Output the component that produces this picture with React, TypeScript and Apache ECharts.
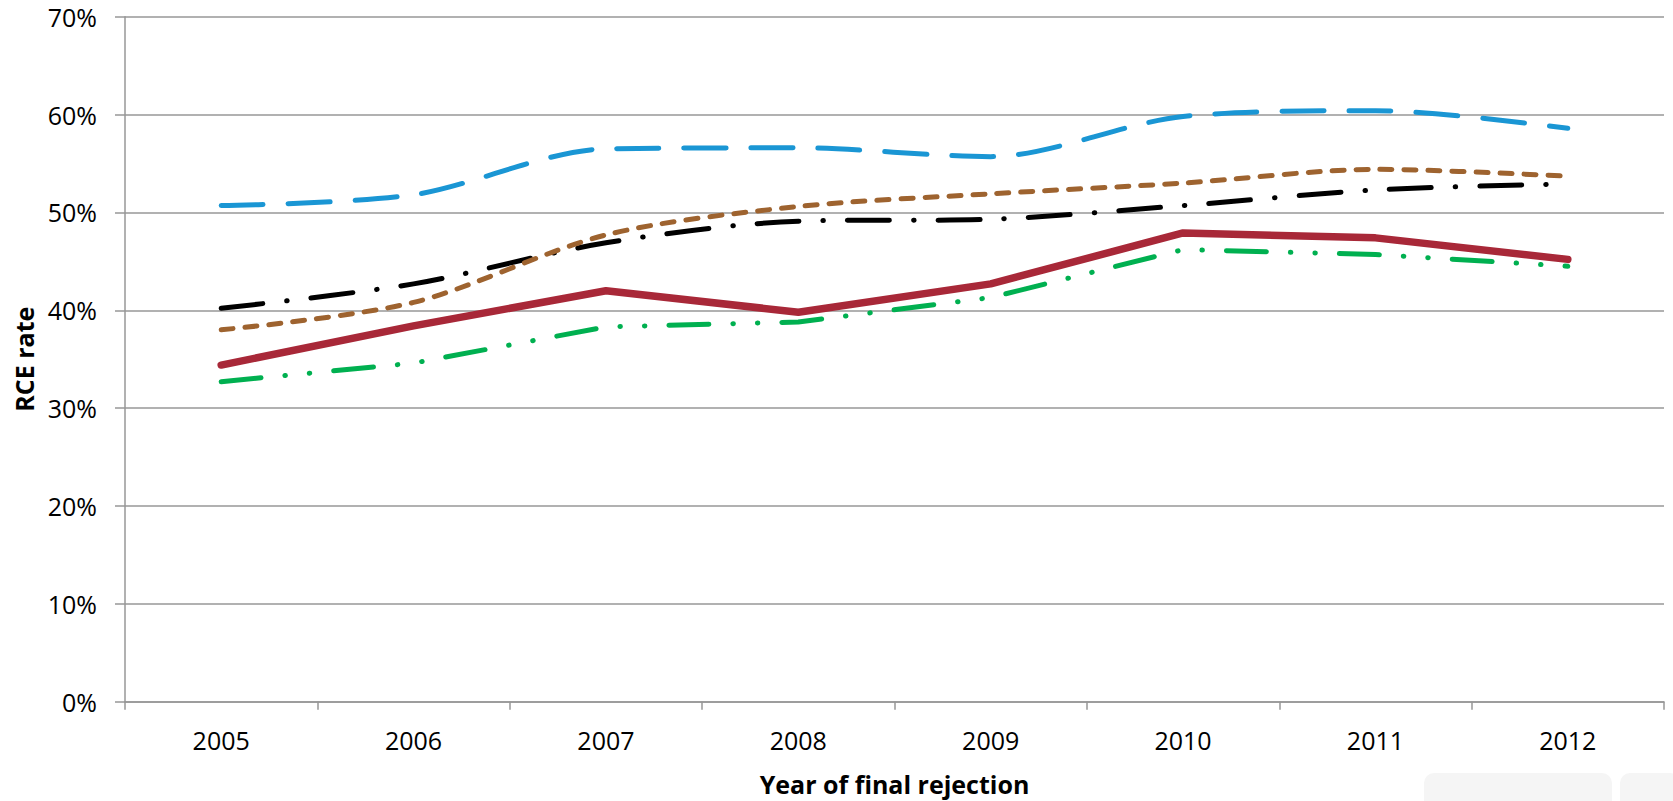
import React, { useEffect, useRef } from "react";
import * as echarts from "echarts";

const years = ["2005", "2006", "2007", "2008", "2009", "2010", "2011", "2012"];
const blueSeries = [50.7, 51.8, 56.5, 56.6, 55.7, 59.8, 60.4, 58.6];
const brownSeries = [38.0, 40.8, 47.7, 50.6, 51.9, 53.0, 54.4, 53.7];
const blackSeries = [40.2, 42.7, 46.9, 49.1, 49.3, 50.7, 52.3, 52.9];
const greenSeries = [32.7, 34.6, 38.3, 38.8, 41.3, 46.2, 45.7, 44.5];
const redSeries = [34.4, 38.4, 42.0, 39.8, 42.7, 47.9, 47.4, 45.2];

const FONT = "'Open Sans', 'Noto Sans', sans-serif";
const GRID_COLOR = "#979797";

export default function App() {
  const ref = useRef<HTMLDivElement>(null);
  useEffect(() => {
    if (!ref.current) return;
    const chart = echarts.init(ref.current, undefined, { renderer: "svg" });
    const mk = (name: string, data: number[], color: string, width: number, type: any, smooth: any) => ({
      name,
      type: "line",
      data,
      showSymbol: false,
      symbol: "none",
      smooth,
      lineStyle: { color, width, type, cap: "round", join: "round" },
      itemStyle: { color },
    });
    chart.setOption({
      animation: false,
      backgroundColor: "#ffffff",
      textStyle: { fontFamily: FONT },
      grid: { left: 125, right: 9, top: 16.7, bottom: 99.3, containLabel: false, outerBoundsMode: "none" },
      xAxis: {
        type: "category",
        data: years,
        boundaryGap: true,
        name: "Year of final rejection",
        nameLocation: "middle",
        nameGap: 70,
        nameTextStyle: { fontFamily: FONT, fontSize: 25, fontWeight: "bold", color: "#000" },
        axisLine: { show: true, lineStyle: { color: GRID_COLOR, width: 1.5 } },
        axisTick: { show: true, alignWithLabel: false, length: 8, lineStyle: { color: GRID_COLOR, width: 1.5 } },
        axisLabel: { fontFamily: FONT, fontSize: 25, color: "#000", margin: 26, lineHeight: 25 },
        splitLine: { show: false },
      },
      yAxis: {
        type: "value",
        min: 0,
        max: 70,
        interval: 10,
        name: "RCE rate",
        nameLocation: "middle",
        nameGap: 89,
        nameRotate: 90,
        nameTextStyle: { fontFamily: FONT, fontSize: 25, fontWeight: "bold", color: "#000" },
        axisLine: { show: true, lineStyle: { color: GRID_COLOR, width: 1.5 } },
        axisTick: { show: true, length: 10, lineStyle: { color: GRID_COLOR, width: 1.5 } },
        axisLabel: { fontFamily: FONT, fontSize: 25, color: "#000", margin: 28, formatter: "{value}%" },
        splitLine: { show: true, lineStyle: { color: GRID_COLOR, width: 1.5 } },
      },
      graphic: [
        { type: "rect", shape: { x: 1424, y: 773, width: 188, height: 40, r: 10 }, style: { fill: "#f5f5f5" }, silent: true, z: -1 },
        { type: "rect", shape: { x: 1620, y: 773, width: 60, height: 40, r: 10 }, style: { fill: "#f5f5f5" }, silent: true, z: -1 },
      ],
      series: [
        mk("Blue", blueSeries, "#1A96D4", 5, [42, 25], 0.3),
        mk("Black", blackSeries, "#000000", 5, [42, 24, 0.5, 24], 0.3),
        mk("Brown", brownSeries, "#9E632F", 5, [12, 12], 0.3),
        mk("Green", greenSeries, "#00B050", 5, [40, 24, 0.5, 24, 0.5, 24], false),
        mk("Red", redSeries, "#A82838", 7.5, "solid", false),
      ],
    });
    return () => chart.dispose();
  }, []);
  return (
    <div
      ref={ref}
      style={{ position: "fixed", left: 0, top: 0, width: 1673, height: 801, background: "#fff" }}
    />
  );
}
